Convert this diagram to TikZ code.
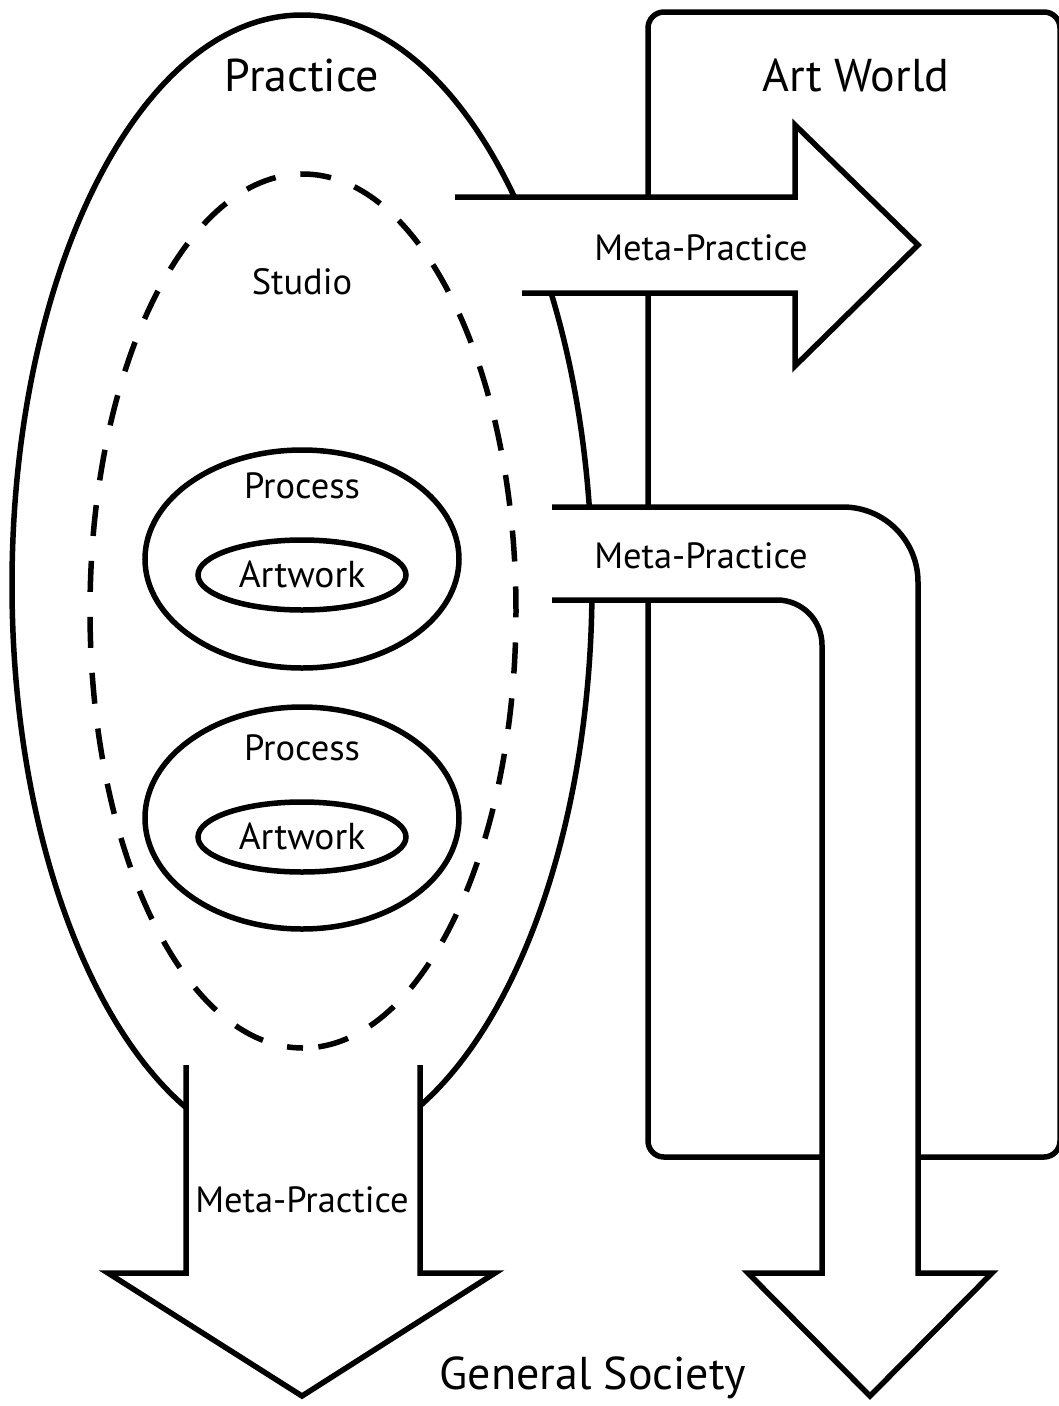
\documentclass[tikz,border=0pt]{standalone}
\usepackage{fontspec}
\setmainfont{PT Sans}
\usepackage{tikz}
\usetikzlibrary{positioning}

\begin{document}
\begin{tikzpicture}[x=1pt,y=-1pt,line width=5.5pt,
  every node/.style={inner sep=0pt, outer sep=0pt},
  big/.style={font=\fontsize{46}{52}\selectfont},
  mid/.style={font=\fontsize{36.5}{42}\selectfont},
  art/.style={font=\fontsize{37.5}{44}\selectfont},
  blockarrow/.style={line width=5.5pt, line join=miter}]
\useasboundingbox (0,0) rectangle (1058,1406);

% Art World box
\draw[rounded corners=16pt] (648,12) rectangle (1060,1157);

% Practice, Studio and the two processes
\draw (302,585) ellipse [x radius=290, y radius=570];
\draw[dash pattern=on 31pt off 25pt, dash phase=15pt]
  (303,1048) arc [start angle=90, end angle=450, x radius=213, y radius=437];
\draw (302,559) ellipse [x radius=157, y radius=109];
\draw (302,575) ellipse [x radius=104, y radius=35];
\draw (302,818) ellipse [x radius=157, y radius=111];
\draw (302,837) ellipse [x radius=104, y radius=35];

% Arrow to the Art World
\fill[white] (455,197) -- (795,197) -- (795,125) -- (918,245) -- (795,366) -- (795,293) -- (522,293) -- cycle;
\draw[blockarrow] (455,197) -- (795,197) -- (795,125) -- (918,245) -- (795,366) -- (795,293) -- (522,293);

% Bent arrow through the Art World
\fill[white] (552,507) -- (843,507) arc [start angle=-90, end angle=0, radius=75] -- (918,1273) -- (992,1273)
  -- (870,1396) -- (748,1273) -- (822,1273) -- (822,645) arc [start angle=0, end angle=-90, radius=45] -- (552,600) -- cycle;
\draw[blockarrow] (552,507) -- (843,507) arc [start angle=-90, end angle=0, radius=75] -- (918,1273) -- (992,1273)
  -- (870,1396) -- (748,1273) -- (822,1273) -- (822,645) arc [start angle=0, end angle=-90, radius=45] -- (552,600);

% Arrow down to General Society
\fill[white] (186,1065) -- (186,1273) -- (108,1273) -- (302,1396) -- (495,1273) -- (420,1273) -- (420,1065) -- cycle;
\draw[blockarrow] (186,1065) -- (186,1273) -- (108,1273) -- (302,1396) -- (495,1273) -- (420,1273) -- (420,1065);

% Labels
\node[big] (practice) at (302,75) {Practice};
\node[big] (artworld) at (856,75) {Art World};
\node[mid] (studio) at (302,282) {Studio};
\node[mid] (process1) at (302,486) {Process};
\node[art] (artwork1) at (302,574) {Artwork};
\node[mid] (process2) at (302,748) {Process};
\node[art] (artwork2) at (302,836) {Artwork};
\node[mid] (meta1) at (701,248) {Meta-Practice};
\node[mid] (meta2) at (701,556) {Meta-Practice};
\node[mid] (meta3) at (302,1200) {Meta-Practice};
\node[big] (society) at (593,1378) {General Society};
\end{tikzpicture}
\end{document}
